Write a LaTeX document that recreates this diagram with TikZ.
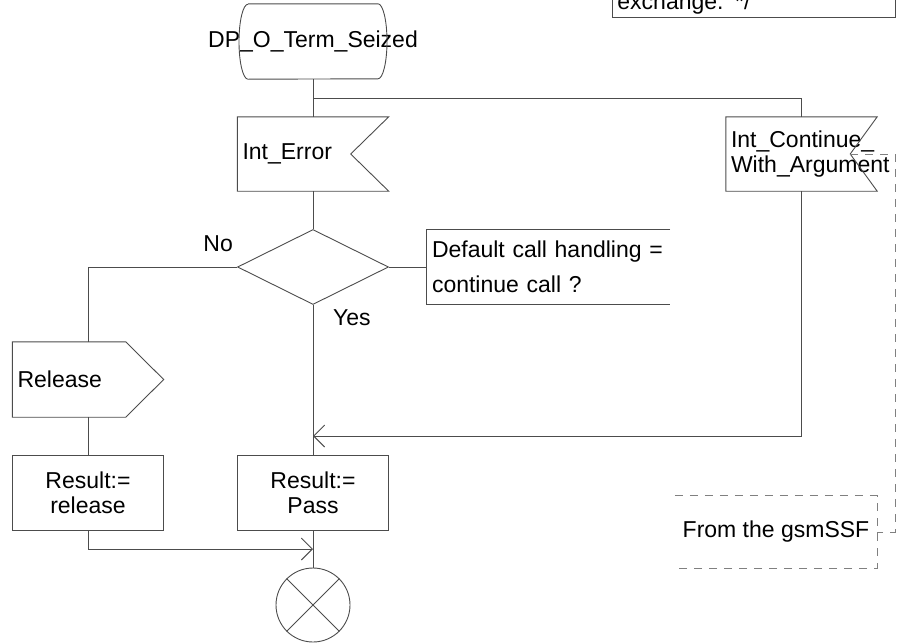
\documentclass[tikz,border=0pt]{standalone}
\usepackage{fontspec}
\setmainfont{Liberation Sans}
\usetikzlibrary{shapes.geometric,arrows.meta}
\begin{document}
\begin{tikzpicture}[
x=1pt, y=-1pt,
every node/.style={font=\fontsize{23}{25}\selectfont},
line/.style={draw=black!70, line width=0.9pt},
txt/.style={inner sep=0pt, minimum width=151pt, minimum height=74pt},
lefttxt/.style={txt, text width=141pt, inner xsep=5pt, align=left},
mid/.style={txt, align=center},
arrow/.style={line, -{Straight Barb[length=11pt,width=22pt]}},
note/.style={draw=black!50, line width=0.9pt, dash pattern=on 8pt off 7pt}
]
\useasboundingbox (0,0) rectangle (901,643);
\clip (0,0) rectangle (901,643);
% comment cut by the page edge
\node[lefttxt, line, minimum height=0pt, inner ysep=3pt, text width=273pt, anchor=south west] (xnote) at (612,18) {exchange. */};
% start
\node[inner sep=0pt, minimum height=75pt] (seized) at (313,41.5) {DP\_O\_Term\_Seized};
\draw[line] ([xshift=-65pt]seized.north) -- ([xshift=65pt]seized.north) arc[start angle=90, end angle=-90, x radius=9pt, y radius=37.5pt] -- ([xshift=-65pt]seized.south) arc[start angle=270, end angle=90, x radius=9pt, y radius=37.5pt];
\coordinate (split) at (313,98);
% inputs
\node[lefttxt] (interr) at (313,154) {Int\_Error};
\draw[line] (interr.north west) -- (interr.north east) -- ([xshift=-38pt]interr.east) -- (interr.south east) -- (interr.south west) -- cycle;
\node[lefttxt] (contarg) at (801.5,154) {Int\_Continue\_\\With\_Argument};
\draw[line] (contarg.north west) -- (contarg.north east) -- ([xshift=-27pt]contarg.east) -- (contarg.south east) -- (contarg.south west) -- cycle;
% decision
\node[diamond, line, minimum width=151pt, minimum height=75pt, inner sep=0pt] (dec) at (313,267) {};
\node[lefttxt, text width=233pt, minimum height=75pt] (dflt) at (548.5,267) {Default call handling =\\[10pt]continue call ?};
\draw[line] (dflt.north east) -- (dflt.north west) -- (dflt.south west) -- (dflt.south east);
\node[anchor=east, inner sep=0pt] (no) at (233,244) {No};
\node[anchor=west, inner sep=0pt] (yes) at (333,318) {Yes};
% release branch
\node[lefttxt, minimum height=75pt] (rel) at (88,379.5) {Release};
\draw[line] (rel.north west) -- ([xshift=-38pt]rel.north east) -- (rel.east) -- ([xshift=-38pt]rel.south east) -- (rel.south west) -- cycle;
\node[mid, line, minimum height=75pt] (resrel) at (88,492.5) {Result:=\\release};
\node[mid, line, minimum height=75pt] (resps) at (313,492.5) {Result:=\\Pass};
% stop
\node[circle, line, minimum size=74pt, inner sep=0pt] (stop) at (313,605) {};
\draw[line] (stop.north west) -- (stop.south east) (stop.north east) -- (stop.south west);
% note
\node[txt, minimum width=202pt, minimum height=72pt] (gsm) at (776,532) {From the gsmSSF};
\draw[note] (gsm.north west) -- (gsm.north east) -- (gsm.south east) -- (gsm.south west);
\coordinate (join) at (313,436);
\coordinate (mrg) at (313,549);
% connectors
\draw[line] (seized) -- (interr);
\draw[line] (split) -| (contarg.north);
\draw[line] (interr) -- (dec);
\draw[line] (dec) -- (dflt);
\draw[line] (dec.west) -| (rel.north);
\draw[line] (rel) -- (resrel);
\draw[line] (dec) -- (resps);
\draw[arrow] (contarg.south) |- (join);
\draw[arrow] (resrel.south) |- (mrg);
\draw[line] (resps) -- (stop);
\draw[note] ([xshift=-27pt]contarg.east) -- ++(45,0) |- (gsm.east);
\end{tikzpicture}
\end{document}
